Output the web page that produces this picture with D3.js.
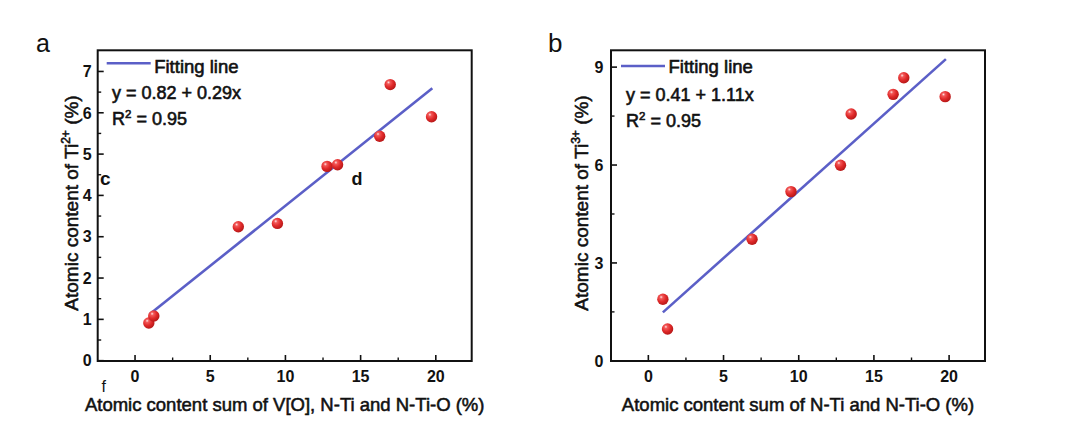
<!DOCTYPE html>
<html>
<head>
<meta charset="utf-8">
<script src="https://cdn.jsdelivr.net/npm/d3@7"></script>
<style>
  html, body { margin: 0; padding: 0; background: #fff; }
  svg { display: block; }
  text { font-family: "Liberation Sans", Arial, sans-serif; fill: #111; }
</style>
</head>
<body>
<svg id="chart" width="1080" height="434"></svg>
<script>
// ---------------- data ----------------
const xA = [0.95, 1.28, 6.9, 9.5, 12.8, 13.5, 16.3, 17.0, 19.75];
const yA = [0.9, 1.07, 3.23, 3.31, 4.69, 4.73, 5.42, 6.67, 5.89];
const xB = [1.0, 1.31, 6.93, 9.52, 12.81, 13.52, 16.31, 17.02, 19.77];
const yB = [1.87, 0.96, 3.71, 5.17, 5.98, 7.55, 8.15, 8.66, 8.08];

const fitXA = [1.0, 19.8];
const fitYA = [1.11, 6.58];
const fitXB = [1.0, 19.82];
const fitYB = [1.47, 9.23];

const xDomain = [-2.45, 22.42];
const xMajorTicks = [0, 5, 10, 15, 20];
const xMinorTicks = [2.5, 7.5, 12.5, 17.5];

const yDomainA = [-0.02, 7.5];
const yMajorTicksA = [0, 1, 2, 3, 4, 5, 6, 7];
const yMinorTicksA = [0.5, 1.5, 2.5, 3.5, 4.5, 5.5, 6.5];

const yDomainB = [-0.02, 9.5];
const yMajorTicksB = [0, 3, 6, 9];
const yMinorTicksB = [1.5, 4.5, 7.5];

const panelLabels = ["a", "b"];
const legendLabel = "Fitting line";
const equationA = ["y = 0.82 + 0.29x", "0.95"];
const equationB = ["y = 0.41 + 1.11x", "0.95"];
const xTitleA = "Atomic content sum of V[O], N-Ti and N-Ti-O (%)";
const xTitleB = "Atomic content sum of N-Ti and N-Ti-O (%)";
const yTitleA = ["Atomic content of Ti", "2+", " (%)"];
const yTitleB = ["Atomic content of Ti", "3+", " (%)"];
const strayLetters = [
  {t: "c", x: 100, y: 185, size: 19, weight: "bold"},
  {t: "d", x: 351.5, y: 185, size: 18, weight: "bold"},
  {t: "f", x: 101.5, y: 392, size: 16, weight: "normal"}
];

// ---------------- drawing ----------------
const svg = d3.select("#chart");
svg.append("rect").attr("width", 1080).attr("height", 434).attr("fill", "#fff");

const defs = svg.append("defs");
const grad = defs.append("radialGradient").attr("id", "ball")
  .attr("cx", "38%").attr("cy", "35%").attr("r", "65%").attr("fx", "35%").attr("fy", "30%");
grad.append("stop").attr("offset", "0%").attr("stop-color", "#ffe4e4");
grad.append("stop").attr("offset", "22%").attr("stop-color", "#f25858");
grad.append("stop").attr("offset", "60%").attr("stop-color", "#e02a2a");
grad.append("stop").attr("offset", "100%").attr("stop-color", "#b81818");

const LINE_COLOR = "#5b5fc7";

function panel(cfg) {
  const g = svg.append("g");
  const x = d3.scaleLinear().domain(xDomain).range([cfg.left, cfg.right]);
  const y = d3.scaleLinear().domain(cfg.yDomain).range([cfg.bottom, cfg.top]);

  // x axis (inward ticks)
  const xAxis = g.append("g").attr("transform", `translate(0,${cfg.bottom})`)
    .call(d3.axisBottom(x).tickValues(cfg.xMajor).tickSizeInner(-6).tickSizeOuter(0).tickPadding(0).tickFormat(d3.format("d")));
  xAxis.select(".domain").remove();
  xAxis.selectAll(".tick line").attr("stroke", "#111").attr("stroke-width", 1.6);
  xAxis.selectAll(".tick text").attr("y", 21).attr("dy", 0)
    .style("font-size", "16px").style("font-weight", "bold");
  const xMin = g.append("g").attr("transform", `translate(0,${cfg.bottom})`)
    .call(d3.axisBottom(x).tickValues(cfg.xMinor).tickSize(-3.5).tickFormat(""));
  xMin.select(".domain").remove();
  xMin.selectAll(".tick line").attr("stroke", "#111").attr("stroke-width", 1.4);

  // y axis
  const yAxis = g.append("g").attr("transform", `translate(${cfg.left},0)`)
    .call(d3.axisLeft(y).tickValues(cfg.yMajor).tickSizeInner(-6).tickSizeOuter(0).tickPadding(0).tickFormat(d3.format("d")));
  yAxis.select(".domain").remove();
  yAxis.selectAll(".tick line").attr("stroke", "#111").attr("stroke-width", 1.6);
  yAxis.selectAll(".tick text").attr("x", -cfg.ylabGap).attr("dy", "0.36em")
    .style("font-size", "16px").style("font-weight", "bold");
  const yMin = g.append("g").attr("transform", `translate(${cfg.left},0)`)
    .call(d3.axisLeft(y).tickValues(cfg.yMinor).tickSize(-3.5).tickFormat(""));
  yMin.select(".domain").remove();
  yMin.selectAll(".tick line").attr("stroke", "#111").attr("stroke-width", 1.4);

  // frame
  g.append("rect").attr("x", cfg.left).attr("y", cfg.top)
    .attr("width", cfg.right - cfg.left).attr("height", cfg.bottom - cfg.top)
    .attr("fill", "none").attr("stroke", "#111").attr("stroke-width", 2);

  // fit line
  g.append("path")
    .datum(cfg.fitX.map((d, i) => [d, cfg.fitY[i]]))
    .attr("d", d3.line().x(d => x(d[0])).y(d => y(d[1])))
    .attr("fill", "none").attr("stroke", LINE_COLOR).attr("stroke-width", 2.6);

  // points
  g.selectAll("circle.pt").data(cfg.xs.map((d, i) => [d, cfg.ys[i]]))
    .join("circle").attr("class", "pt")
    .attr("cx", d => x(d[0])).attr("cy", d => y(d[1])).attr("r", 5.7)
    .attr("fill", "url(#ball)");

  // legend
  const lx = cfg.left + cfg.legDx;
  g.append("line").attr("x1", lx).attr("x2", lx + 44)
    .attr("y1", cfg.legY).attr("y2", cfg.legY)
    .attr("stroke", LINE_COLOR).attr("stroke-width", 2.6);
  g.append("text").attr("x", lx + 47.5).attr("y", 72.5)
    .style("font-size", "18.5px").style("stroke", "#111").style("stroke-width", 0.6)
    .text(legendLabel);

  // equation
  g.append("text").attr("x", cfg.eqX).attr("y", cfg.eqY1)
    .style("font-size", "18px").style("stroke", "#111").style("stroke-width", 0.6)
    .text(cfg.eq[0]);
  const r2 = g.append("text").attr("x", cfg.eqX).attr("y", cfg.eqY2)
    .style("font-size", "18px").style("stroke", "#111").style("stroke-width", 0.6);
  r2.append("tspan").text("R");
  r2.append("tspan").attr("dy", -7).style("font-size", "11.5px").text("2");
  r2.append("tspan").attr("dy", 7).text(" = " + cfg.eq[1]);

  // panel label
  g.append("text").attr("x", cfg.labX).attr("y", 51.7)
    .style("font-size", cfg.labSize + "px").text(cfg.label);

  // x title
  g.append("text").attr("x", (cfg.left + cfg.right) / 2).attr("y", 410.5)
    .attr("text-anchor", "middle")
    .style("font-size", "18.5px").style("stroke", "#111").style("stroke-width", 0.55)
    .text(cfg.xTitle);

  // y title
  const yt = g.append("text")
    .attr("transform", `translate(${cfg.yTitleX},${203}) rotate(-90)`)
    .attr("text-anchor", "middle")
    .style("font-size", "19px").style("stroke", "#111").style("stroke-width", 0.55);
  yt.append("tspan").text(cfg.yTitle[0]);
  yt.append("tspan").attr("dy", -8).style("font-size", "12px").text(cfg.yTitle[1]);
  yt.append("tspan").attr("dy", 8).text(cfg.yTitle[2]);
  return g;
}

panel({
  left: 97.7, right: 471.7, top: 50.3, bottom: 361,
  yDomain: yDomainA, yMajor: yMajorTicksA, yMinor: yMinorTicksA,
  xMajor: xMajorTicks, xMinor: xMinorTicks,
  xs: xA, ys: yA, fitX: fitXA, fitY: fitYA,
  ylabGap: 6, legDx: 9, legY: 63.3,
  eq: equationA, eqX: 112, eqY1: 99, eqY2: 124.5,
  label: panelLabels[0], labX: 36, labSize: 25,
  xTitle: xTitleA, yTitle: yTitleA, yTitleX: 77.5
});

panel({
  left: 611, right: 985, top: 50.3, bottom: 361,
  yDomain: yDomainB, yMajor: yMajorTicksB, yMinor: yMinorTicksB,
  xMajor: xMajorTicks, xMinor: xMinorTicks,
  xs: xB, ys: yB, fitX: fitXB, fitY: fitYB,
  ylabGap: 7.5, legDx: 10, legY: 66,
  eq: equationB, eqX: 626, eqY1: 101, eqY2: 127.3,
  label: panelLabels[1], labX: 548, labSize: 26,
  xTitle: xTitleB, yTitle: yTitleB, yTitleX: 588
});

svg.selectAll("text.stray").data(strayLetters).join("text").attr("class", "stray")
  .attr("x", d => d.x).attr("y", d => d.y)
  .style("font-size", d => d.size + "px").style("font-weight", d => d.weight)
  .text(d => d.t);
</script>
</body>
</html>
